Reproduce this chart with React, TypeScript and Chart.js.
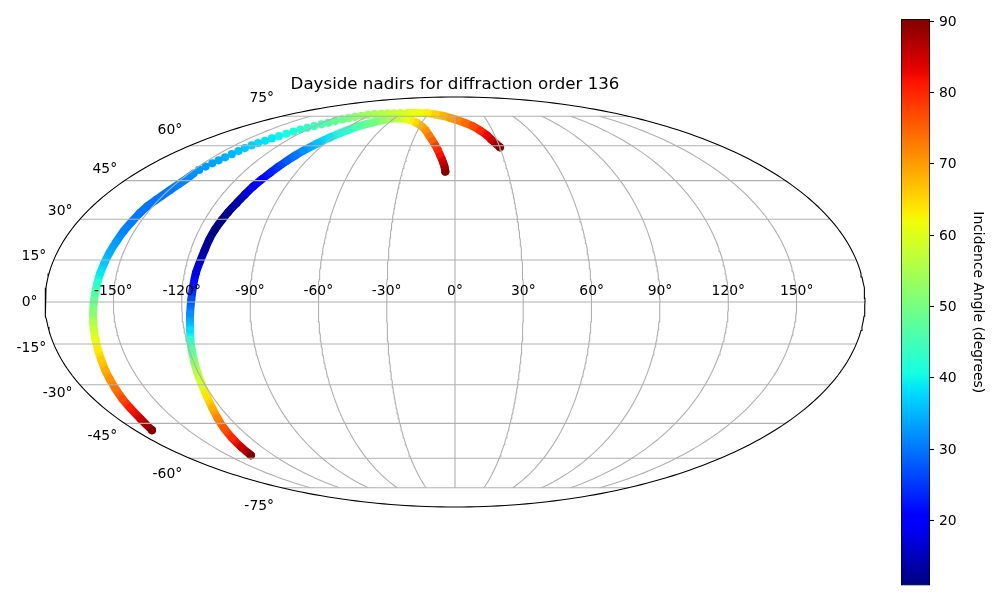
import React, { useEffect, useRef } from "react";
import { Chart, registerables } from "chart.js";

Chart.register(...registerables);

const CHART_TITLE = "Dayside nadirs for diffraction order 136";
const COLORBAR_LABEL = "Incidence Angle (degrees)";
const lonTicks = [-150, -120, -90, -60, -30, 0, 30, 60, 90, 120, 150];
const latTicks = [-75, -60, -45, -30, -15, 0, 15, 30, 45, 60, 75];
const colorbarTicks = [20, 30, 40, 50, 60, 70, 80, 90];
const INC_MIN = 10.9;
const INC_MAX = 90.3;

const trackALon = [-5.5, -6.1, -7.0, -8.1, -9.5, -11.4, -13.7, -16.5, -19.9, -23.6, -27.6, -31.6, -36.5, -41.6, -46.8, -53.2, -57.7, -63.3, -69.0, -74.5, -79.0, -83.2, -86.3, -88.9, -92.0, -95.5, -98.7, -100.3, -101.8, -103.2, -104.5, -105.9, -107.2, -108.3, -109.4, -110.8, -111.7, -112.7, -113.3, -113.6, -114.2, -114.9, -115.3, -115.8, -116.5, -117.4, -118.2, -118.9, -119.7, -120.5, -121.5, -122.8, -124.5, -126.5, -128.6, -130.8, -132.9, -134.9];
const trackALat = [48.7, 50.7, 52.4, 54.1, 55.9, 58.2, 60.4, 62.7, 65.1, 67.4, 69.2, 70.5, 71.7, 72.7, 73.3, 73.7, 73.9, 73.5, 72.7, 71.6, 70.5, 69.3, 67.6, 66.0, 63.9, 61.0, 57.7, 55.6, 53.2, 50.7, 48.2, 45.5, 42.6, 39.5, 36.2, 32.7, 29.7, 26.0, 22.3, 18.7, 14.5, 10.4, 5.7, 0.7, -4.3, -10.0, -13.6, -17.2, -21.6, -25.6, -30.1, -34.6, -38.9, -42.9, -46.9, -51.1, -55.0, -58.6];
const trackAInc = [90, 88, 86, 84, 82, 80, 78, 75, 73, 71, 69, 67, 65, 63, 61, 59, 57, 55, 52.5, 50, 48, 46, 43, 41, 39, 36, 32, 30, 28, 25, 23, 21, 19, 16.5, 14, 12.5, 11.3, 11, 12, 13.5, 16, 18.5, 22.5, 27, 32, 38, 43, 47, 52, 56, 60, 64, 68, 72, 76, 80, 85, 90];

const trackBLon = [30.1, 28.3, 26.2, 24.1, 20.0, 15.3, 9.0, 1.9, -5.0, -12.5, -21.7, -31.5, -39.4, -47.6, -54.4, -61.6, -68.7, -75.6, -81.9, -88.1, -93.5, -98.1, -102.1, -105.6, -108.9, -112.0, -114.4, -117.4, -120.4, -123.1, -125.6, -127.8, -129.6, -131.4, -133.3, -135.0, -136.8, -138.5, -139.6, -140.6, -141.5, -142.5, -143.6, -144.7, -145.8, -146.9, -147.2, -147.4, -148.2, -149.3, -150.4, -151.4, -152.8, -153.6, -154.2, -155.0, -155.6, -156.3, -156.8, -157.3, -157.7, -158.1, -158.6, -159.1, -159.6, -160.0, -160.6, -161.2, -161.9, -162.8, -163.6, -164.5, -165.7, -166.6, -168.1, -170.5];
const trackBLat = [59.3, 60.9, 62.7, 64.9, 67.4, 69.5, 71.3, 72.9, 74.1, 75.2, 76.0, 76.8, 76.8, 77.0, 77.0, 76.9, 76.8, 76.7, 76.5, 76.2, 75.8, 75.3, 74.6, 73.9, 73.2, 72.3, 71.3, 70.5, 69.6, 68.7, 67.8, 66.8, 65.7, 64.5, 63.4, 62.3, 61.2, 60.2, 58.9, 57.6, 56.2, 54.8, 53.5, 52.2, 50.8, 49.4, 47.9, 46.1, 43.7, 41.3, 39.1, 37.3, 34.9, 32.2, 29.1, 25.6, 21.6, 17.6, 13.9, 10.4, 6.8, 3.2, -0.4, -3.9, -7.5, -10.0, -13.6, -17.2, -20.8, -24.5, -28.0, -31.4, -35.4, -38.9, -43.3, -47.8];
const trackBInc = [90, 88, 85.5, 83, 80, 77, 74.5, 72, 70, 68, 65.5, 63, 62, 61, 60, 59, 58, 57, 56, 55, 54, 53, 52, 50.5, 49, 48, 46.5, 45.5, 44.5, 43.5, 42.5, 41.5, 41, 40, 39, 38.5, 38, 37, 36.5, 36, 35, 34.5, 34, 33.5, 33, 32.5, 32, 31.5, 31, 30.5, 30, 30, 30, 30, 30.5, 31, 33, 34.5, 36.5, 39, 42.5, 46, 49, 52, 55.5, 58, 61, 63.5, 66, 68.5, 71, 73.5, 77, 81, 85, 90];
// Track B's dots stand apart from each other between these two indices.
const SPARSE_FROM = 14;
const SPARSE_TO = 46;

const FONT = '"DejaVu Sans"';
const D2R = Math.PI / 180;

function solveTheta(latDeg: number) {
  const target = Math.PI * Math.sin(latDeg * D2R);
  let lo = -Math.PI / 2;
  let hi = Math.PI / 2;
  for (let i = 0; i < 50; i++) {
    const mid = (lo + hi) / 2;
    if (2 * mid + Math.sin(2 * mid) < target) lo = mid;
    else hi = mid;
  }
  return (lo + hi) / 2;
}

function mollweide(lonDeg: number, latDeg: number) {
  const t = solveTheta(latDeg);
  return { x: (lonDeg / 180) * Math.cos(t), y: Math.sin(t) };
}

function interp(stops: number[][], v: number) {
  for (let i = 1; i < stops.length; i++) {
    if (v <= stops[i][0]) {
      const [x0, y0] = stops[i - 1];
      const [x1, y1] = stops[i];
      return y0 + ((v - x0) / (x1 - x0)) * (y1 - y0);
    }
  }
  return stops[stops.length - 1][1];
}

const jetR = [[0, 0], [0.35, 0], [0.66, 1], [0.89, 1], [1, 0.5]];
const jetG = [[0, 0], [0.125, 0], [0.375, 1], [0.64, 1], [0.91, 0], [1, 0]];
const jetB = [[0, 0.5], [0.11, 1], [0.34, 1], [0.65, 0], [1, 0]];

function jet(f: number) {
  const v = Math.min(1, Math.max(0, f));
  const c = (s: number[][]) => Math.round(interp(s, v) * 255);
  return `rgb(${c(jetR)},${c(jetG)},${c(jetB)})`;
}

function incColor(inc: number) {
  return jet((inc - INC_MIN) / (INC_MAX - INC_MIN));
}

function trackDataset(lons: number[], lats: number[], incs: number[], sparse?: [number, number]) {
  const isSparse = (i: number) => !!sparse && i > sparse[0] && i < sparse[1];
  const last = lons.length - 1;
  return {
    data: lons.map((lon, i) => mollweide(lon, lats[i])),
    showLine: true,
    tension: 0.3,
    borderWidth: 8,
    borderCapStyle: "round",
    borderJoinStyle: "round",
    pointRadius: incs.map((_, i) => (isSparse(i) || i === 0 || i === last ? 4.1 : 3.2)),
    pointBorderWidth: 0,
    pointBackgroundColor: incs.map(incColor),
    clip: false,
    segment: {
      borderColor: (ctx: any) => {
        const a = ctx.p0DataIndex;
        const b = ctx.p1DataIndex;
        if (sparse && a >= sparse[0] && b <= sparse[1]) return "rgba(0,0,0,0)";
        const c2d = document.createElement("canvas").getContext("2d") as CanvasRenderingContext2D;
        const grad = c2d.createLinearGradient(ctx.p0.x, ctx.p0.y, ctx.p1.x, ctx.p1.y);
        grad.addColorStop(0, incColor(incs[a]));
        grad.addColorStop(1, incColor(incs[b]));
        return grad;
      },
    },
  };
}

function lineDataset(points: { x: number; y: number }[], color: string, width: number) {
  return {
    data: points,
    showLine: true,
    borderColor: color,
    borderWidth: width,
    pointRadius: 0,
    clip: false,
  };
}

export default function App() {
  const mapRef = useRef<HTMLCanvasElement>(null);
  const barRef = useRef<HTMLCanvasElement>(null);

  useEffect(() => {
    document.body.style.margin = "0";
    const latSamples: number[] = [];
    for (let l = -75; l <= 75; l += 1) latSamples.push(l);
    const rimPoints: { x: number; y: number }[] = [];
    for (let a = 0; a <= 360; a += 1) {
      rimPoints.push({ x: Math.cos(a * D2R), y: Math.sin(a * D2R) });
    }

    const meridians = lonTicks.map((lon) =>
      lineDataset(latSamples.map((lat) => mollweide(lon, lat)), "#b0b0b0", 1.1)
    );
    const parallels = latTicks.map((lat) =>
      lineDataset([mollweide(-180, lat), mollweide(180, lat)], "#b0b0b0", 1.1)
    );
    const rim = lineDataset(rimPoints, "#000000", 1.1);

    const labels = {
      id: "geoLabels",
      afterDatasetsDraw(chart: any) {
        const { ctx, scales } = chart;
        const sx = scales.x;
        const sy = scales.y;
        ctx.save();
        ctx.fillStyle = "#000";
        ctx.font = `13.9px ${FONT}`;
        ctx.textAlign = "center";
        ctx.textBaseline = "bottom";
        lonTicks.forEach((lon) => {
          ctx.fillText(`${lon}°`, sx.getPixelForValue(lon / 180), sy.getPixelForValue(0) - 4);
        });
        ctx.textAlign = "right";
        ctx.textBaseline = "middle";
        latTicks.forEach((lat) => {
          const t = solveTheta(lat);
          ctx.fillText(
            `${lat}°`,
            sx.getPixelForValue(-Math.cos(t)) - 7.5,
            sy.getPixelForValue(1.1 * Math.sin(t)) + 0.5
          );
        });
        ctx.font = `16.67px ${FONT}`;
        ctx.textAlign = "center";
        ctx.textBaseline = "alphabetic";
        ctx.fillText(CHART_TITLE, sx.getPixelForValue(0), sy.top - 8);
        ctx.restore();
      },
    };

    const map = new Chart(mapRef.current as HTMLCanvasElement, {
      type: "scatter",
      data: {
        datasets: [
          rim,
          ...parallels,
          ...meridians,
          trackDataset(trackALon, trackALat, trackAInc),
          trackDataset(trackBLon, trackBLat, trackBInc, [SPARSE_FROM, SPARSE_TO]),
        ] as any,
      },
      options: {
        animation: false,
        responsive: false,
        layout: { padding: { left: 45, right: 135, top: 97, bottom: 93 } },
        plugins: { legend: { display: false }, tooltip: { enabled: false }, title: { display: false } },
        scales: {
          x: { type: "linear", min: -1, max: 1, display: false },
          y: { type: "linear", min: -1, max: 1, display: false },
        },
      } as any,
      plugins: [labels],
    });

    const bar = new Chart(barRef.current as HTMLCanvasElement, {
      type: "bar",
      data: {
        labels: [COLORBAR_LABEL],
        datasets: [
          {
            data: [[INC_MIN, INC_MAX]],
            barPercentage: 1,
            categoryPercentage: 1,
            borderColor: "#000",
            borderWidth: 1,
            borderSkipped: false,
            backgroundColor: (ctx: any) => {
              const s = ctx.chart.scales.y;
              if (!s || s.top === undefined) return "#888";
              const g = ctx.chart.ctx.createLinearGradient(0, s.bottom, 0, s.top);
              for (let i = 0; i <= 64; i++) g.addColorStop(i / 64, jet(i / 64));
              return g;
            },
          },
        ] as any,
      },
      options: {
        animation: false,
        responsive: false,
        layout: { padding: { left: 21, right: 0, top: 19, bottom: 14.5 } },
        plugins: { legend: { display: false }, tooltip: { enabled: false } },
        scales: {
          x: { display: false },
          y: {
            position: "right",
            min: INC_MIN,
            max: INC_MAX,
            afterBuildTicks: (s: any) => {
              s.ticks = colorbarTicks.map((value) => ({ value }));
            },
            afterFit: (s: any) => {
              s.width = 70;
            },
            grid: { drawOnChartArea: false, tickLength: 4, tickColor: "#000", tickWidth: 1.1 },
            border: { display: false },
            ticks: { color: "#000", font: { family: FONT, size: 13.9 }, padding: 5, autoSkip: false, maxRotation: 0, labelOffset: 1 },
            title: {
              display: true,
              text: COLORBAR_LABEL,
              color: "#000",
              font: { family: FONT, size: 13.9 },
              padding: { top: 14, bottom: 2 },
            },
          },
        },
      } as any,
    });

    return () => {
      map.destroy();
      bar.destroy();
    };
  }, []);

  return (
    <div style={{ position: "fixed", left: 0, top: 0, width: 1000, height: 600, overflow: "hidden", background: "#fff" }}>
      <canvas ref={mapRef} width={1000} height={600} style={{ position: "absolute", left: 0, top: 0 }} />
      <canvas ref={barRef} width={120} height={600} style={{ position: "absolute", left: 880, top: 0 }} />
    </div>
  );
}
